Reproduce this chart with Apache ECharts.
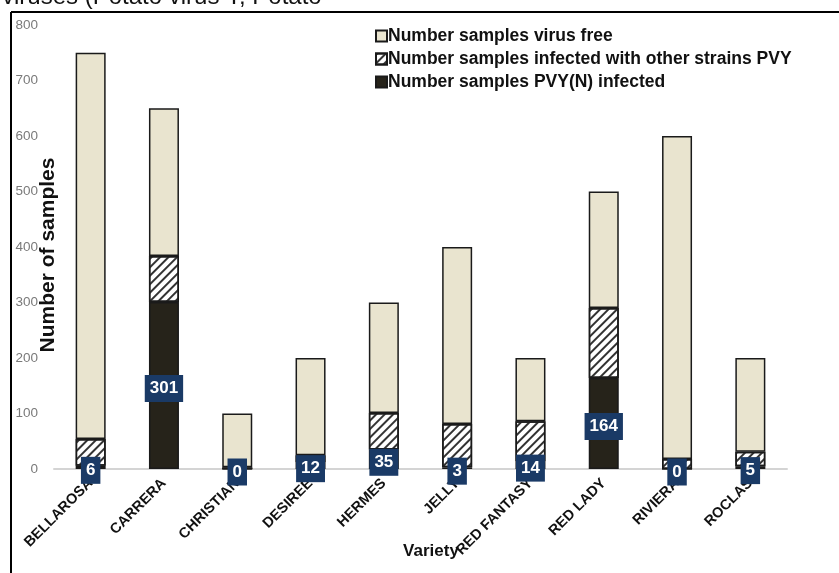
<!DOCTYPE html>
<html>
<head>
<meta charset="utf-8">
<script src="https://cdn.jsdelivr.net/npm/echarts@6/dist/echarts.min.js"></script>
<style>
  html, body { margin: 0; padding: 0; background: #fff; }
  #chart { width: 839px; height: 573px; }
</style>
</head>
<body>
<div id="chart"></div>
<script>
const varieties = ['BELLAROSA', 'CARRERA', 'CHRISTIAN', 'DESIREE', 'HERMES', 'JELLY', 'RED FANTASY', 'RED LADY', 'RIVIERA', 'ROCLAS'];
const pvyN = [6, 301, 0, 12, 35, 3, 14, 164, 0, 5];
const otherStrains = [48, 83, 3, 13, 66, 78, 72, 126, 18, 26];
const virusFree = [696, 266, 97, 175, 199, 319, 114, 210, 582, 169];
const yTicks = [0, 100, 200, 300, 400, 500, 600, 700, 800];

const FONT = '"Liberation Sans", Arial, sans-serif';
const BEIGE = '#e9e4cf';
const DARK = '#26231a';
const NAVY = '#1a3a66';

const chart = echarts.init(document.getElementById('chart'));

chart.setOption({
  animation: false,
  textStyle: { fontFamily: FONT },
  grid: { left: 54, right: 52, top: 25, bottom: 104 },
  legend: {
    orient: 'vertical',
    left: 370,
    top: 22,
    itemWidth: 11,
    itemHeight: 11,
    itemGap: 5,
    icon: 'rect',
    data: ['Number samples virus free', 'Number samples infected with other strains PVY', 'Number samples PVY(N) infected'],
    textStyle: { fontFamily: FONT, fontSize: 17.5, fontWeight: 'bold', color: '#111', padding: [0, 0, 0, -4] }
  },
  xAxis: {
    type: 'category',
    data: varieties,
    axisLine: { lineStyle: { color: '#d4d4d4', width: 2 } },
    axisTick: { show: false },
    axisLabel: {
      rotate: 45,
      margin: 12,
      interval: 0,
      color: '#111',
      fontFamily: FONT,
      fontWeight: 'bold',
      fontSize: 14.5
    }
  },
  yAxis: {
    type: 'value',
    min: yTicks[0],
    max: yTicks[yTicks.length - 1],
    interval: 100,
    splitLine: { show: false },
    axisLine: { show: false },
    axisLabel: { color: '#7a7a7a', fontSize: 13.5, fontFamily: FONT, margin: 16 }
  },
  graphic: [
    { type: 'line', shape: { x1: 11, y1: 12, x2: 11, y2: 573 }, style: { stroke: '#000', lineWidth: 2 } },
    { type: 'line', shape: { x1: 11, y1: 12, x2: 839, y2: 12 }, style: { stroke: '#000', lineWidth: 2 } },
    { type: 'text', left: 2, top: -15, style: { text: 'viruses (Potato virus Y, Potato', font: '24px ' + FONT, fill: '#111' } },
    { type: 'text', x: 48, y: 255, rotation: Math.PI / 2, style: { text: 'Number of samples', font: 'bold 21px ' + FONT, fill: '#111', align: 'center', verticalAlign: 'middle' } },
    { type: 'text', x: 431, y: 551, style: { text: 'Variety', font: 'bold 17px ' + FONT, fill: '#111', align: 'center', verticalAlign: 'middle' } }
  ],
  series: [
    {
      name: 'Number samples PVY(N) infected',
      type: 'bar',
      stack: 'total',
      barWidth: 30,
      data: pvyN,
      itemStyle: { color: DARK, borderColor: '#1a1a1a', borderWidth: 1.5 },
      label: {
        show: true,
        position: 'inside',
        offset: [0, 3],
        color: '#fff',
        fontFamily: FONT,
        fontWeight: 'bold',
        fontSize: 17,
        backgroundColor: NAVY,
        padding: [6, 5, 4, 5]
      },
      z: 2
    },
    {
      name: 'Number samples infected with other strains PVY',
      type: 'bar',
      stack: 'total',
      data: otherStrains,
      itemStyle: {
        color: '#fff',
        borderColor: '#1a1a1a',
        borderWidth: 1.5,
        decal: {
          symbol: 'rect',
          symbolSize: 1,
          color: '#333',
          dashArrayX: [1, 0],
          dashArrayY: [2, 4],
          rotation: -Math.PI / 4
        }
      },
      z: 2
    },
    {
      name: 'Number samples virus free',
      type: 'bar',
      stack: 'total',
      data: virusFree,
      itemStyle: { color: BEIGE, borderColor: '#1a1a1a', borderWidth: 1.5 },
      z: 2
    }
  ]
});
</script>
</body>
</html>
